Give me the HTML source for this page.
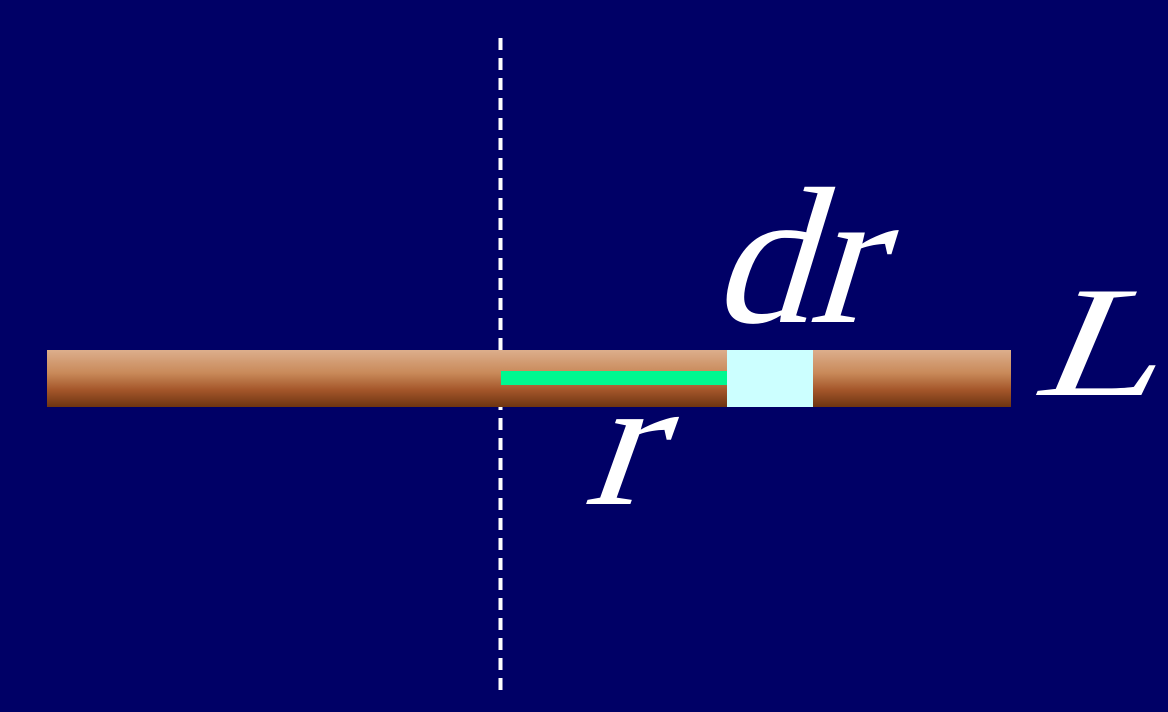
<!DOCTYPE html>
<html><head><style>
body{margin:0;background:#000066;}
svg{display:block}
.t{font-family:"Liberation Serif","DejaVu Serif",serif;font-style:normal;fill:#fff}
</style></head><body>
<svg width="1168" height="712" viewBox="0 0 1168 712">
<defs><linearGradient id="g" x1="0" y1="0" x2="0" y2="1">
<stop offset="0" stop-color="#dcae8c"/><stop offset="0.4" stop-color="#c98a5a"/><stop offset="0.7" stop-color="#a4562a"/><stop offset="1" stop-color="#6c3412"/></linearGradient></defs>
<rect width="1168" height="712" fill="#000066"/>
<line x1="500.5" y1="38" x2="500.5" y2="690" stroke="#fff" stroke-width="4" stroke-dasharray="12 8"/>
<rect x="47" y="350" width="964" height="57" fill="url(#g)"/>
<rect x="501" y="371" width="226" height="14" fill="#00f890"/>
<rect x="727" y="350" width="86" height="57" fill="#ccffff"/>
<g transform="translate(710,322) skewX(-17)"><text class="t" x="0" y="0" font-size="195">dr</text></g>
<g transform="translate(1030,395) scale(1.3,1) skewX(-18)"><text class="t" x="0" y="0" font-size="158">L</text></g>
<g transform="translate(582,504) scale(1.1,1) skewX(-18)"><text class="t" x="0" y="0" font-size="185">r</text></g>
</svg>
</body></html>
